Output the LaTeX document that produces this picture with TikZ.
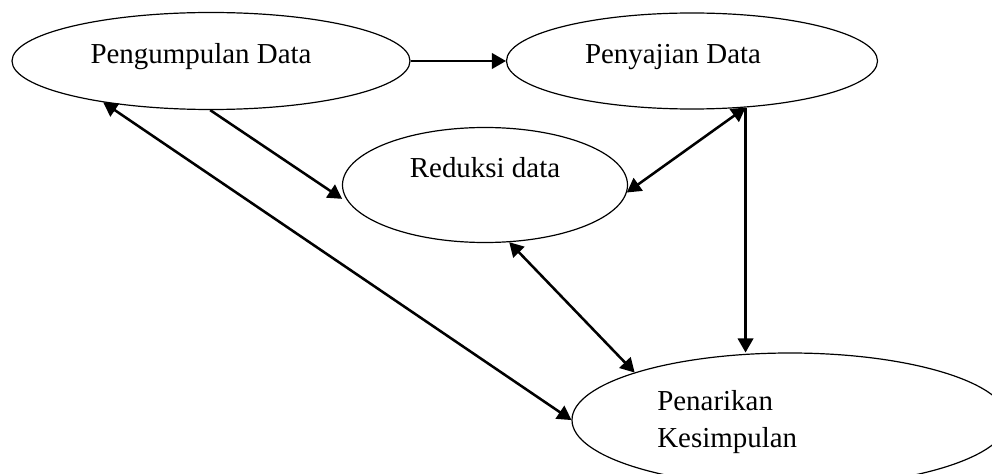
\documentclass[tikz,border=0pt]{standalone}
\usepackage{fontspec}
\setmainfont{Liberation Serif}
\usetikzlibrary{arrows}
\usetikzlibrary{shapes.geometric}
\tikzstyle{every link} = [line width=1.9pt]
\tikzstyle{link} = [>=triangle 60, draw, every link]
\tikzstyle{tahap} = [ellipse, draw, line width=0.9pt, inner sep=0pt]
\tikzstyle{teks} = [font=\fontsize{21.7}{27.75}\selectfont, inner sep=0pt]

\begin{document}
\begin{tikzpicture}[x=0.75pt, y=-0.75pt]
        \useasboundingbox (0,0) rectangle (992,474);
        \clip (0,0) rectangle (992,474);

        \node[tahap, minimum width=298.5pt, minimum height=72.75pt] (peng) at (211,61) {};
        \node[tahap, minimum width=278.25pt, minimum height=72pt] (peny) at (692,61) {};
        \node[tahap, minimum width=213.75pt, minimum height=86.25pt] (red) at (485,185) {};
        \node[tahap, minimum width=327pt, minimum height=100.5pt] (pen) at (790,420) {};

        \node[teks, anchor=base] (pengtxt) at (201,64) {Pengumpulan Data};
        \node[teks, anchor=base] (penytxt) at (673,64) {Penyajian Data};
        \node[teks, anchor=base] (redtxt) at (485,177) {Reduksi data};
        \node[teks, anchor=base west, align=left] (pentxt) at (657,447) {Penarikan\\Kesimpulan};

        \path[link,->] (peng.east) -- (peny.west);
        \path[link,->, shorten >=7pt] (peng.-91) -- (red.188);
        \path[link,<->] (peng.201) -- (pen.west);
        \path[link,<->] (peny.-41) -- (red.-3);
        \path[link,->] (peny.-41) -- (peny.-41 |- pen.north);
        \path[link,<->] (red.-67) -- (pen.163);
    \end{tikzpicture}
\end{document}
